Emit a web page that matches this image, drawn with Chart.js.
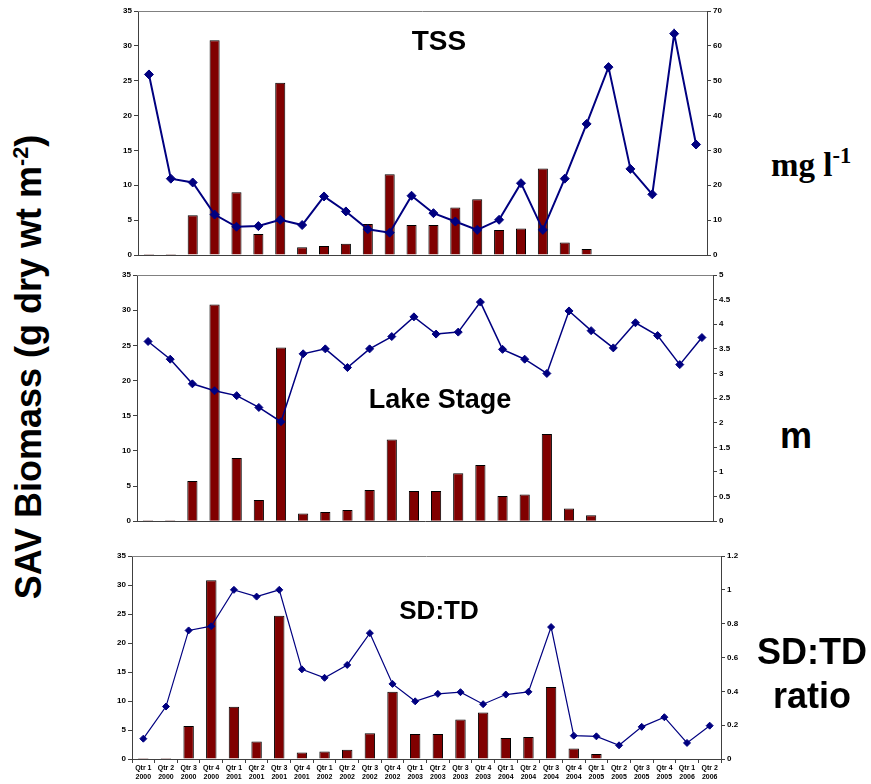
<html lang="en">

<head>
    <meta charset="UTF-8">
    <title>SAV Biomass vs TSS, Lake Stage and SD:TD</title>
    <script src="https://cdn.jsdelivr.net/npm/chart.js"></script>
    <style>
        body { margin: 0; background: #fff; font-family: "Liberation Sans", Arial, sans-serif; }
        #wrap { position: relative; width: 871px; height: 784px; overflow: hidden; }
        canvas { position: absolute; }
        .lbl { position: absolute; font-weight: bold; line-height: 1; white-space: nowrap; color: #000; }
        .ttl { transform: translateX(-50%); }
        sup { font-size: 60%; vertical-align: 0; position: relative; top: -0.6em; }
    </style>
</head>

<body>
    <div id="wrap">
        <canvas id="c1" width="650" height="262" style="left:96px;top:0px"></canvas>
        <canvas id="c2" width="656" height="264" style="left:96px;top:264px"></canvas>
        <canvas id="c3" width="672" height="239" style="left:90px;top:545px"></canvas>

        <div class="lbl ttl" style="left:439px;top:27px;font-size:28px">TSS</div>
        <div class="lbl ttl" style="left:440px;top:386px;font-size:27px">Lake Stage</div>
        <div class="lbl ttl" style="left:439px;top:597px;font-size:26px">SD:TD</div>

        <div class="lbl" style="left:29px;top:367px;font-size:36px;transform:translate(-50%,-50%) rotate(-90deg)">SAV Biomass (g dry wt m<sup>-2</sup>)</div>

        <div class="lbl" style="left:771px;top:149px;font-size:33px;font-family:'Liberation Serif','Times New Roman',serif">mg l<sup style="font-size:68%;top:-0.6em">-1</sup></div>
        <div class="lbl" style="left:780px;top:418px;font-size:36px">m</div>
        <div class="lbl" style="left:757px;top:630px;font-size:36px;text-align:center;line-height:44px">SD:TD<br>ratio</div>
    </div>

    <script>
        //kategorier (kvartaler)
        let kvartaler = [
            ['Qtr 1', '2000'], ['Qtr 2', '2000'], ['Qtr 3', '2000'], ['Qtr 4', '2000'],
            ['Qtr 1', '2001'], ['Qtr 2', '2001'], ['Qtr 3', '2001'], ['Qtr 4', '2001'],
            ['Qtr 1', '2002'], ['Qtr 2', '2002'], ['Qtr 3', '2002'], ['Qtr 4', '2002'],
            ['Qtr 1', '2003'], ['Qtr 2', '2003'], ['Qtr 3', '2003'], ['Qtr 4', '2003'],
            ['Qtr 1', '2004'], ['Qtr 2', '2004'], ['Qtr 3', '2004'], ['Qtr 4', '2004'],
            ['Qtr 1', '2005'], ['Qtr 2', '2005'], ['Qtr 3', '2005'], ['Qtr 4', '2005'],
            ['Qtr 1', '2006'], ['Qtr 2', '2006']
        ];

        //SAV biomasse (søjler, venstre akse)
        let biomasse = [0.1, 0.1, 5.7, 30.8, 9.0, 3.0, 24.7, 1.1, 1.3, 1.6, 4.45, 11.6, 4.3,
            4.3, 6.8, 8.0, 3.6, 3.8, 12.4, 1.8, 0.85, null, null, null, null, null];

        //TSS (mg/l, højre akse)
        let tss = [51.8, 21.9, 20.8, 11.6, 8.1, 8.3, 10.1, 8.6, 16.8, 12.5, 7.4, 6.4, 17.0,
            12.0, 9.6, 7.2, 10.1, 20.6, 7.2, 21.9, 37.6, 53.9, 24.7, 17.4, 63.5, 31.7];

        //søniveau (m, højre akse)
        let soeniveau = [3.65, 3.29, 2.79, 2.65, 2.55, 2.31, 2.02, 3.40, 3.50, 3.12, 3.50, 3.75, 4.15,
            3.80, 3.84, 4.45, 3.49, 3.29, 3.00, 4.27, 3.87, 3.52, 4.03, 3.77, 3.18, 3.73];

        //SD:TD forhold (højre akse)
        let sdtd = [0.12, 0.31, 0.76, 0.785, 1.00, 0.96, 1.00, 0.53, 0.48, 0.556, 0.744, 0.444, 0.341,
            0.385, 0.395, 0.324, 0.381, 0.397, 0.78, 0.138, 0.134, 0.081, 0.19, 0.247, 0.095, 0.197];

        //tegn den grå linje i toppen af plotområdet
        let topLinje = {
            id: 'topLinje',
            afterDraw(chart) {
                let a = chart.chartArea;
                let ctx = chart.ctx;
                ctx.save();
                ctx.strokeStyle = '#808080';
                ctx.lineWidth = 1;
                ctx.beginPath();
                ctx.moveTo(a.left, a.top + 0.5);
                ctx.lineTo(a.right, a.top + 0.5);
                ctx.stroke();
                ctx.restore();
            }
        };

        let tickFont = { family: 'Liberation Sans, Arial', size: 8, weight: 'bold' };

        //skriv tal uden ekstra nuller (1 i stedet for 1.0)
        function pænTal(v) {
            return String(+v.toFixed(2));
        }

        //lav et panel med søjler og linje
        function lavPanel(id, linjeData, hoejreMax, hoejreStep, opt) {
            let ctx = document.getElementById(id).getContext('2d');
            return new Chart(ctx, {
                type: 'bar',
                data: {
                    labels: kvartaler,
                    datasets: [
                        {
                            type: 'line',
                            data: linjeData,
                            yAxisID: 'y2',
                            borderColor: '#000080',
                            backgroundColor: '#000080',
                            borderWidth: opt.lineWidth,
                            pointStyle: 'rectRot',
                            pointRadius: opt.pointRadius,
                            pointBorderWidth: 1,
                            tension: 0,
                            order: 0
                        },
                        {
                            type: 'bar',
                            data: biomasse,
                            yAxisID: 'y',
                            backgroundColor: '#800000',
                            borderColor: '#000000',
                            borderWidth: 1,
                            borderSkipped: 'bottom',
                            barPercentage: 0.46,
                            categoryPercentage: 1,
                            minBarLength: 1,
                            order: 1
                        }
                    ]
                },
                options: {
                    responsive: false,
                    animation: false,
                    layout: { padding: { top: 11, left: 0, right: 0, bottom: 0 } },
                    plugins: { legend: { display: false }, tooltip: { enabled: false } },
                    scales: {
                        x: {
                            offset: true,
                            grid: { display: true, drawOnChartArea: false, drawTicks: opt.xTicks, tickLength: 4, color: '#404040', offset: true },
                            border: { display: true, color: '#404040', width: 1 },
                            ticks: { display: opt.xTicks, maxRotation: 0, autoSkip: false, font: { family: 'Liberation Sans, Arial', size: 7, weight: 'bold' }, color: '#000', padding: 1 },
                            afterFit(s) { s.height = opt.xHeight; }
                        },
                        y: {
                            position: 'left',
                            min: 0, max: 35,
                            ticks: { stepSize: 5, font: tickFont, color: '#000', padding: 2 },
                            grid: { drawOnChartArea: false, tickLength: 4, color: '#404040' },
                            border: { color: '#404040', width: 1 },
                            afterFit(s) { s.width = opt.leftW; }
                        },
                        y2: {
                            position: 'right',
                            min: 0, max: hoejreMax,
                            ticks: { stepSize: hoejreStep, font: tickFont, color: '#000', padding: 2, callback: pænTal },
                            grid: { drawOnChartArea: false, tickLength: 4, color: '#404040' },
                            border: { color: '#404040', width: 1 },
                            afterFit(s) { s.width = opt.rightW; }
                        }
                    }
                },
                plugins: [topLinje]
            });
        }

        lavPanel('c1', tss, 70, 10, { lineWidth: 2, pointRadius: 4.5, xTicks: false, xHeight: 7, leftW: 42, rightW: 39 });
        lavPanel('c2', soeniveau, 5, 0.5, { lineWidth: 1.5, pointRadius: 4, xTicks: false, xHeight: 5, leftW: 41, rightW: 39 });
        lavPanel('c3', sdtd, 1.2, 0.2, { lineWidth: 1.2, pointRadius: 3.5, xTicks: true, xHeight: 25, leftW: 42, rightW: 41 });
    </script>

</body>

</html>
